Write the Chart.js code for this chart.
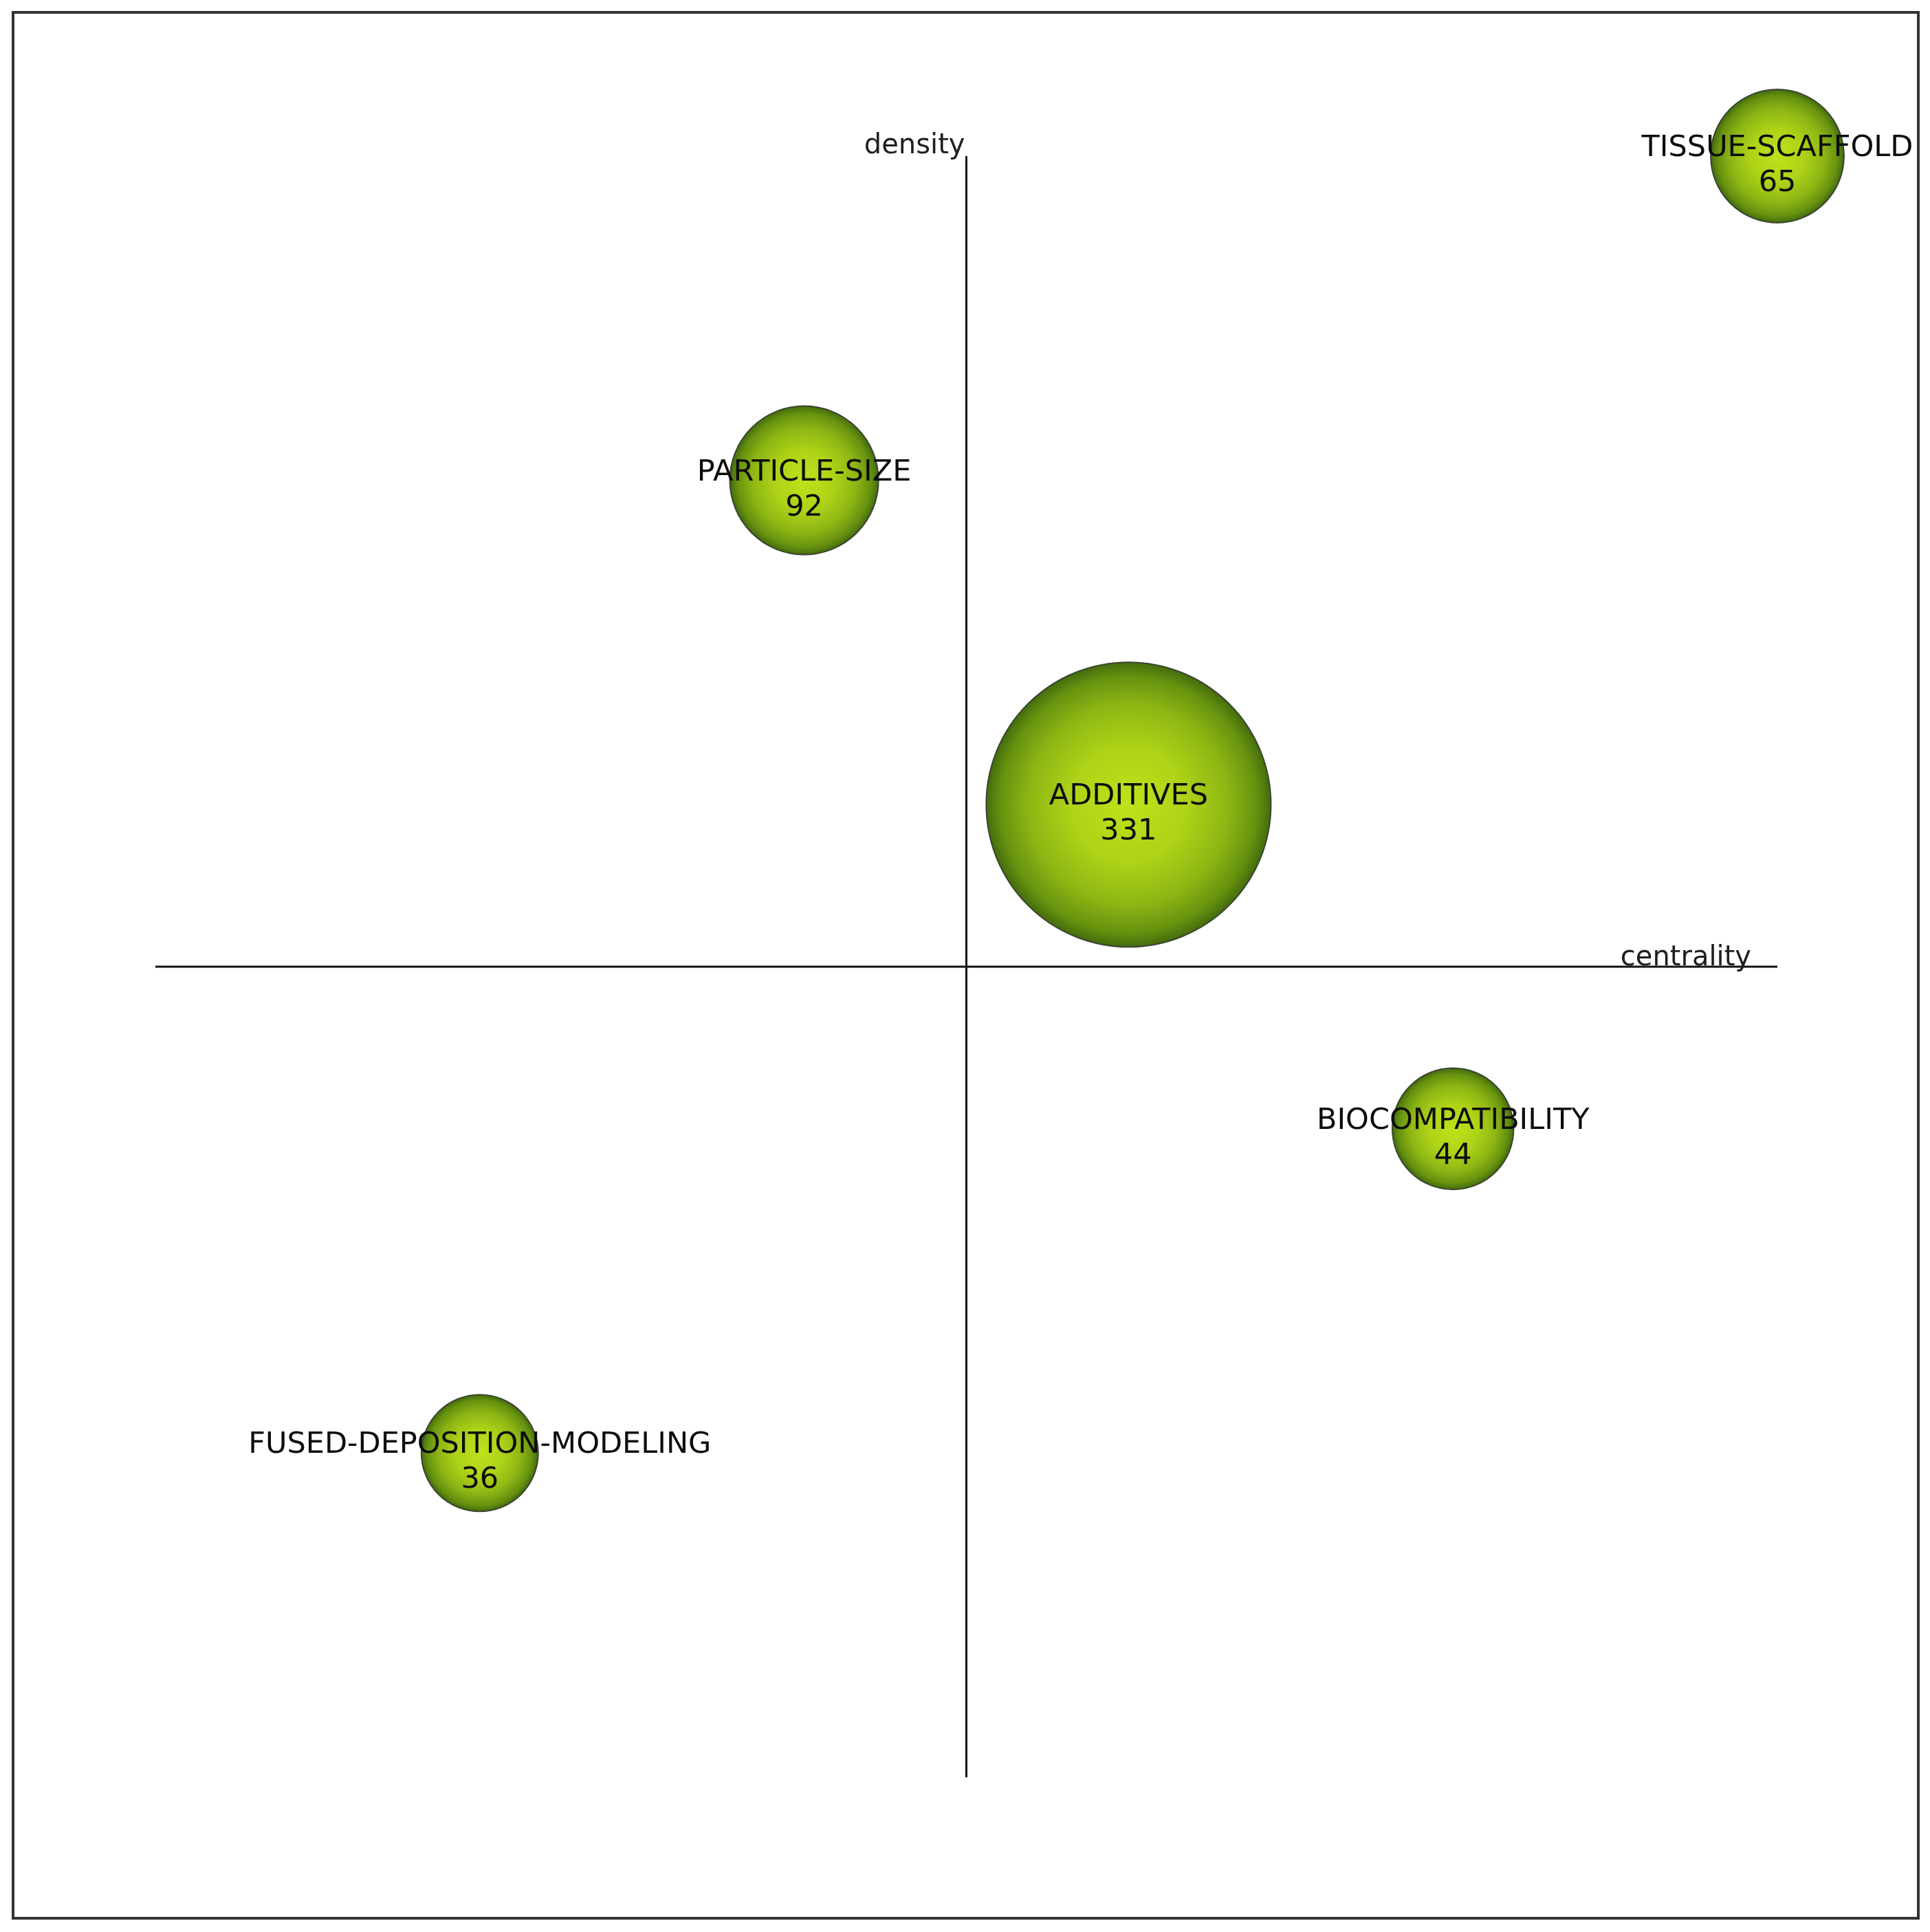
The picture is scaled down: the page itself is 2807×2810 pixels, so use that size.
<!DOCTYPE html>
<html>
<head>
<meta charset="utf-8">
<title>Strategic diagram</title>
<script src="https://cdn.jsdelivr.net/npm/chart.js@4.4.1/dist/chart.umd.min.js"></script>
<style>
  html, body { margin: 0; padding: 0; background: #fff; }
  canvas { display: block; }
</style>
</head>
<body>
<canvas id="diagram" width="2807" height="2810"></canvas>
<script>
// themes of the strategic diagram (centrality / density, ranked, -1..1)
var themes = ["TISSUE-SCAFFOLD", "PARTICLE-SIZE", "ADDITIVES", "BIOCOMPATIBILITY", "FUSED-DEPOSITION-MODELING"];
var centrality = [1.0, -0.2, 0.2, 0.6, -0.6];
var density = [1.0, 0.6, 0.2, -0.2, -0.6];
var docCounts = [65, 92, 331, 44, 36];
var axisNames = ["centrality", "density"];

// bubble radius grows linearly with the number of documents
function radiusFor(count) {
  return 70 + 0.414 * count;
}

var points = [];
for (var i = 0; i < themes.length; i++) {
  points.push({x: centrality[i], y: density[i], r: radiusFor(docCounts[i])});
}

function bubbleFill(context) {
  if (context.type !== "data") return "#9cc314";
  var chart = context.chart;
  var raw = context.raw;
  var px = chart.scales.x ? chart.scales.x.getPixelForValue(raw.x) : NaN;
  var py = chart.scales.y ? chart.scales.y.getPixelForValue(raw.y) : NaN;
  // called once before the layout is done (overflow check)
  if (!isFinite(px) || !isFinite(py)) return "#9cc314";
  var g = chart.ctx.createRadialGradient(px, py, 0, px, py, raw.r);
  g.addColorStop(0, "#bee21a");
  g.addColorStop(0.4, "#aed317");
  g.addColorStop(0.7, "#8eb614");
  g.addColorStop(0.9, "#66920f");
  g.addColorStop(1, "#456c0d");
  return g;
}

var diagramDecor = {
  id: "diagramDecor",
  beforeDraw: function(chart) {
    var ctx = chart.ctx;
    ctx.save();
    ctx.fillStyle = "#ffffff";
    ctx.fillRect(0, 0, chart.width, chart.height);
    // outer frame
    ctx.strokeStyle = "#333333";
    ctx.lineWidth = 4;
    ctx.strokeRect(19, 18, 2771, 2772);
    // axes through the origin
    var a = chart.chartArea;
    var x0 = chart.scales.x.getPixelForValue(0);
    var y0 = chart.scales.y.getPixelForValue(0);
    ctx.strokeStyle = "#111111";
    ctx.lineWidth = 3;
    ctx.beginPath();
    ctx.moveTo(a.left, y0);
    ctx.lineTo(a.right, y0);
    ctx.moveTo(x0, a.top);
    ctx.lineTo(x0, a.bottom);
    ctx.stroke();
    // axis names
    ctx.fillStyle = "#1e1e1e";
    ctx.font = "40px 'DejaVu Sans'";
    ctx.textAlign = "right";
    ctx.textBaseline = "alphabetic";
    ctx.fillText(axisNames[1], x0 - 2, a.top - 4);
    ctx.fillText(axisNames[0], a.right - 38, y0 - 2);
    ctx.restore();
  },
  afterDatasetsDraw: function(chart) {
    var ctx = chart.ctx;
    var meta = chart.getDatasetMeta(0);
    ctx.save();
    ctx.fillStyle = "#0d0d0d";
    ctx.font = "43px 'DejaVu Sans'";
    ctx.textAlign = "center";
    ctx.textBaseline = "alphabetic";
    meta.data.forEach(function(el, idx) {
      ctx.fillText(themes[idx], el.x, el.y);
      ctx.fillText(String(docCounts[idx]), el.x, el.y + 51);
    });
    ctx.restore();
  }
};

new Chart("diagram", {
  type: "bubble",
  data: {
    datasets: [{
      data: points,
      backgroundColor: bubbleFill,
      borderColor: "#3a4530",
      borderWidth: 2,
      clip: false
    }]
  },
  options: {
    responsive: false,
    animation: false,
    devicePixelRatio: 1,
    layout: {padding: {left: 226, right: 222, top: 227, bottom: 225}},
    scales: {
      x: {display: false, min: -1, max: 1},
      y: {display: false, min: -1, max: 1}
    },
    plugins: {
      legend: {display: false},
      tooltip: {enabled: false}
    }
  },
  plugins: [diagramDecor]
});
</script>
</body>
</html>
